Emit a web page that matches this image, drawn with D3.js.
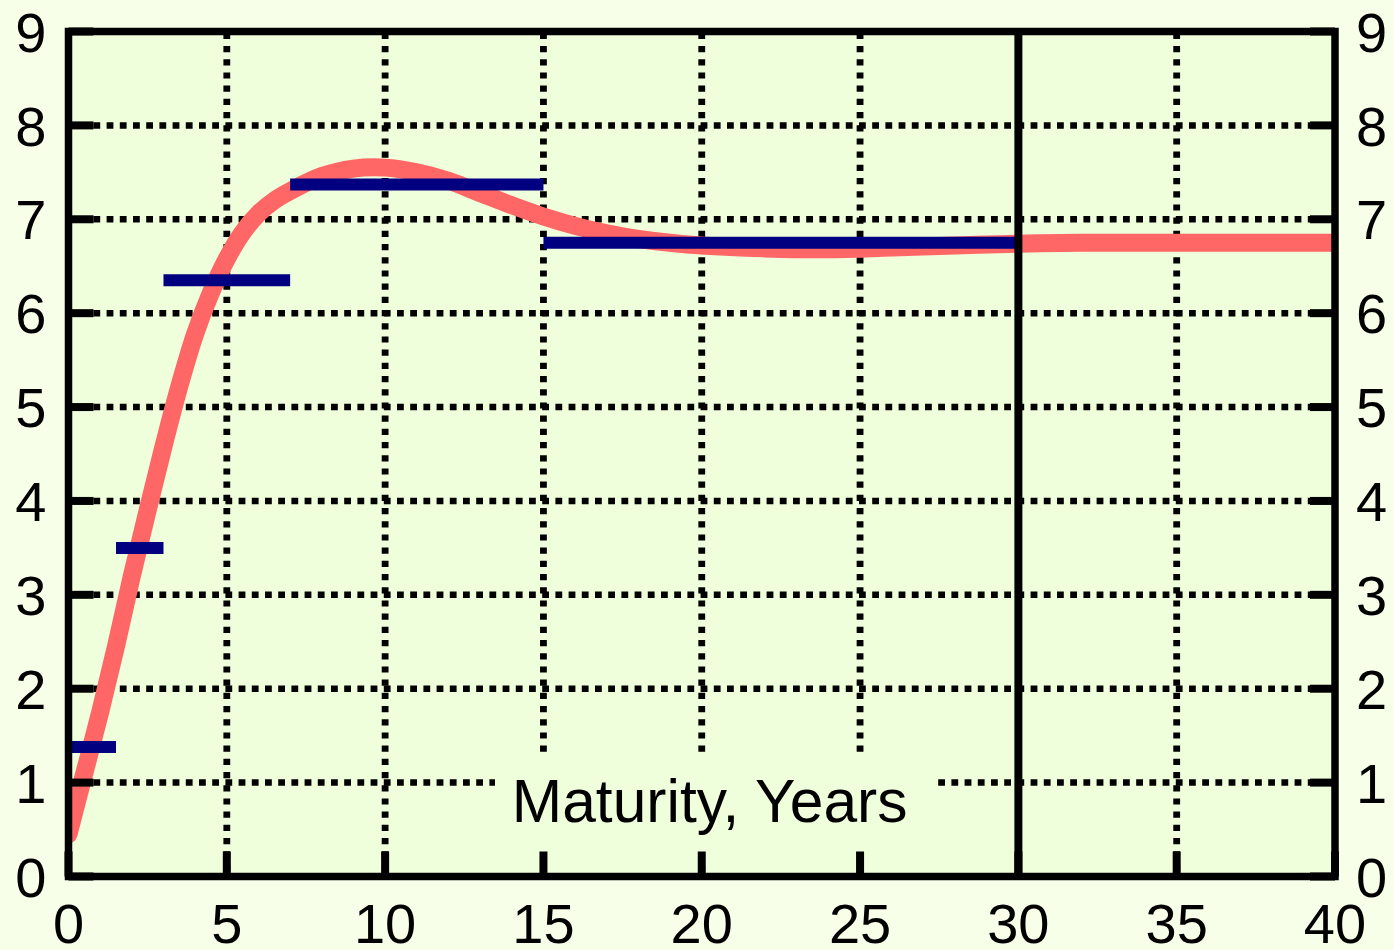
<!DOCTYPE html>
<html>
<head>
<meta charset="utf-8">
<script src="https://cdn.jsdelivr.net/npm/d3@7"></script>
<style>
  html, body { margin: 0; padding: 0; background: #f7ffe8; }
  svg { display: block; }
  text { font-family: "Liberation Sans", Arial, sans-serif; fill: #000; }
</style>
</head>
<body>
<div id="chart"></div>
<script>
// Tick values
var xTicks = [0, 5, 10, 15, 20, 25, 30, 35, 40];
var yTicks = [0, 1, 2, 3, 4, 5, 6, 7, 8, 9];

// Fitted curve (maturity, rate)
var curveMaturity = [0, 0.5, 1, 1.5, 2, 2.5, 3, 3.5, 4, 4.5, 5, 5.5, 6, 6.5, 7, 8, 9, 10, 11, 12, 13, 14, 15, 16, 17, 18, 19, 20, 22, 24, 26, 28, 30, 32, 35, 40];
var curveRate     = [0.45, 1.1, 1.75, 2.45, 3.2, 3.9, 4.58, 5.22, 5.78, 6.22, 6.58, 6.86, 7.06, 7.2, 7.3, 7.46, 7.54, 7.55, 7.5, 7.41, 7.28, 7.15, 7.03, 6.93, 6.85, 6.79, 6.75, 6.72, 6.69, 6.68, 6.7, 6.72, 6.74, 6.75, 6.75, 6.75];

// Forward rate steps
var stepStart = [0, 1.5, 3, 7, 15];
var stepEnd   = [1.5, 3, 7, 15, 30];
var stepRate  = [1.38, 3.5, 6.35, 7.37, 6.75];

var axisLabel = "Maturity, Years";

var W = 1394, H = 950;
var margin = {top: 31.5, right: 59, bottom: 73.5, left: 68.5};
var width = W - margin.left - margin.right,
    height = H - margin.top - margin.bottom;

var svg = d3.select("#chart")
            .append("svg")
            .attr("width", W)
            .attr("height", H);

svg.append("rect")
   .attr("width", W)
   .attr("height", H)
   .attr("fill", "#f7ffe8");

var g = svg.append("g")
           .attr("transform", "translate(" + margin.left + "," + margin.top + ")");

var xScale = d3.scaleLinear().domain([0, 40]).range([0, width]);
var yScale = d3.scaleLinear().domain([0, 9]).range([height, 0]);

// Plot background
g.append("rect")
 .attr("width", width)
 .attr("height", height)
 .attr("fill", "#effedb");

// Dotted grid
g.selectAll("line.hgrid")
 .data(yTicks.filter(function(d) { return d > 0 && d < 9; }))
 .enter()
 .append("line")
 .attr("class", "hgrid")
 .attr("x1", 0)
 .attr("x2", width)
 .attr("y1", function(d) { return yScale(d); })
 .attr("y2", function(d) { return yScale(d); })
 .attr("stroke", "#000")
 .attr("stroke-width", 6.5)
 .attr("stroke-dasharray", "6.8,6.4")
 .attr("stroke-dashoffset", 1.5);

g.selectAll("line.vgrid")
 .data(xTicks.filter(function(d) { return d > 0 && d < 40 && d != 30; }))
 .enter()
 .append("line")
 .attr("class", "vgrid")
 .attr("x1", function(d) { return xScale(d); })
 .attr("x2", function(d) { return xScale(d); })
 .attr("y1", height)
 .attr("y2", 0)
 .attr("stroke", "#000")
 .attr("stroke-width", 6.8)
 .attr("stroke-dasharray", "6.2,7")
 .attr("stroke-dashoffset", 7.3);

// Box behind the axis title
var titleBox = {x0: 13.47, x1: 27.43, y0: 1.3, y1: 0.1};
g.append("rect")
 .attr("x", xScale(titleBox.x0))
 .attr("y", yScale(titleBox.y0))
 .attr("width", xScale(titleBox.x1) - xScale(titleBox.x0))
 .attr("height", yScale(titleBox.y1) - yScale(titleBox.y0))
 .attr("fill", "#effedb");

g.append("text")
 .attr("x", xScale(20.25))
 .attr("y", yScale(0.585))
 .attr("text-anchor", "middle")
 .style("font-size", "60.5px")
 .text(axisLabel);

// Clip for the curve
g.append("clipPath")
 .attr("id", "plotclip")
 .append("rect")
 .attr("x", 0)
 .attr("y", -20)
 .attr("width", width + 3)
 .attr("height", height + 40);

var curveData = curveMaturity.map(function(m, i) { return {m: m, r: curveRate[i]}; });

var line = d3.line()
  .x(function(d) { return xScale(d.m); })
  .y(function(d) { return yScale(d.r); })
  .curve(d3.curveCatmullRom.alpha(0.5));

g.append("path")
 .datum(curveData)
 .attr("clip-path", "url(#plotclip)")
 .attr("d", line)
 .attr("fill", "none")
 .attr("stroke", "#ff6666")
 .attr("stroke-width", 18)
 .attr("stroke-linecap", "round")
 .attr("stroke-linejoin", "round");

// Step bars
var steps = stepStart.map(function(s, i) { return {s: s, e: stepEnd[i], r: stepRate[i]}; });

g.selectAll("line.step")
 .data(steps)
 .enter()
 .append("line")
 .attr("class", "step")
 .attr("x1", function(d) { return xScale(d.s); })
 .attr("x2", function(d) { return xScale(d.e); })
 .attr("y1", function(d) { return yScale(d.r); })
 .attr("y2", function(d) { return yScale(d.r); })
 .attr("stroke", "#000080")
 .attr("stroke-width", 12);

// Solid marker at 30 years
g.append("line")
 .attr("x1", xScale(30))
 .attr("x2", xScale(30))
 .attr("y1", 0)
 .attr("y2", height)
 .attr("stroke", "#000")
 .attr("stroke-width", 8);

// Tick marks
var tickLen = 25;
g.selectAll("line.ytickL")
 .data(yTicks)
 .enter()
 .append("line")
 .attr("x1", 0)
 .attr("x2", tickLen)
 .attr("y1", function(d) { return yScale(d); })
 .attr("y2", function(d) { return yScale(d); })
 .attr("stroke", "#000")
 .attr("stroke-width", 8);

g.selectAll("line.ytickR")
 .data(yTicks)
 .enter()
 .append("line")
 .attr("x1", width)
 .attr("x2", width - tickLen)
 .attr("y1", function(d) { return yScale(d); })
 .attr("y2", function(d) { return yScale(d); })
 .attr("stroke", "#000")
 .attr("stroke-width", 8);

g.selectAll("line.xtick")
 .data(xTicks)
 .enter()
 .append("line")
 .attr("x1", function(d) { return xScale(d); })
 .attr("x2", function(d) { return xScale(d); })
 .attr("y1", height)
 .attr("y2", height - tickLen)
 .attr("stroke", "#000")
 .attr("stroke-width", 8);

// Frame
g.append("rect")
 .attr("width", width)
 .attr("height", height)
 .attr("fill", "none")
 .attr("stroke", "#000")
 .attr("stroke-width", 7.5);

// Tick labels
g.selectAll("text.yl")
 .data(yTicks)
 .enter()
 .append("text")
 .attr("x", -22)
 .attr("y", function(d) { return yScale(d); })
 .attr("dy", "0.36em")
 .attr("text-anchor", "end")
 .style("font-size", "56px")
 .text(function(d) { return d; });

g.selectAll("text.yr")
 .data(yTicks)
 .enter()
 .append("text")
 .attr("x", width + 21)
 .attr("y", function(d) { return yScale(d); })
 .attr("dy", "0.36em")
 .attr("text-anchor", "start")
 .style("font-size", "56px")
 .text(function(d) { return d; });

g.selectAll("text.xl")
 .data(xTicks)
 .enter()
 .append("text")
 .attr("x", function(d) { return xScale(d); })
 .attr("y", height + 66.5)
 .attr("text-anchor", "middle")
 .style("font-size", "56px")
 .text(function(d) { return d; });
</script>
</body>
</html>
